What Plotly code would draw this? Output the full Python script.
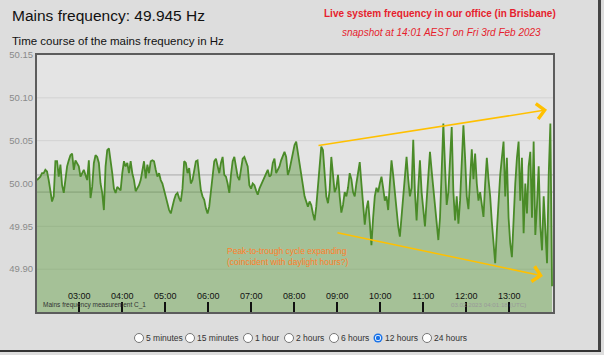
import pandas as pd
import plotly.graph_objects as go

# ---------------- data ----------------
START = "2023-02-03 02:01:00"
END = "2023-02-03 14:01:00"
SAMPLE_SECONDS = 140

FREQ_HZ = [
    50.004, 50.006, 50.008, 50.012, 50.012, 50.016, 50.014, 50.004, 49.991, 49.979,
    49.985, 50.026, 50.026, 50.008, 50.022, 49.998, 49.989, 50.004, 50.020, 50.027,
    50.033, 50.035, 50.016, 50.027, 50.024, 50.020, 50.008, 50.012, 50.016, 50.010,
    50.004, 50.027, 49.983, 49.996, 50.024, 50.033, 50.031, 50.024, 50.000, 49.989,
    49.969, 50.020, 50.039, 50.041, 50.029, 50.012, 49.994, 49.989, 49.996, 49.994,
    49.992, 50.012, 50.026, 50.020, 50.024, 50.012, 50.026, 50.012, 50.004, 49.991,
    49.994, 49.998, 50.004, 50.016, 50.026, 50.006, 50.022, 50.012, 50.026, 50.027,
    50.026, 50.016, 50.008, 50.012, 50.004, 50.000, 49.992, 49.987, 49.977, 49.969,
    49.965, 49.975, 49.981, 49.987, 49.989, 49.983, 49.979, 49.994, 50.026, 50.024,
    50.012, 50.018, 50.000, 50.004, 50.016, 50.026, 50.027, 50.008, 49.992, 49.985,
    49.981, 49.971, 49.965, 49.973, 49.989, 50.004, 50.026, 50.029, 50.020, 50.012,
    50.024, 50.031, 50.010, 50.008, 50.000, 49.989, 50.010, 50.026, 50.031, 50.020,
    50.008, 50.004, 50.016, 50.029, 50.031, 50.024, 50.020, 49.998, 49.994, 50.000,
    49.998, 49.992, 49.987, 49.994, 49.998, 50.002, 50.008, 50.012, 50.016, 50.008,
    50.010, 50.024, 50.029, 50.012, 50.016, 50.020, 50.027, 50.033, 50.037, 50.031,
    50.010, 50.016, 50.027, 50.039, 50.045, 50.049, 50.035, 50.020, 50.012, 49.998,
    49.985, 49.979, 49.973, 49.979, 49.975, 49.965, 49.957, 49.973, 50.000, 50.027,
    50.043, 50.039, 50.008, 49.985, 49.977, 49.992,
    50.031, 50.010, 49.990, 49.995, 50.010, 49.985, 49.966, 49.975, 49.990, 49.985,
    49.995, 50.012, 50.005, 49.990, 49.985, 50.000, 50.015, 50.025, 50.000, 49.975,
    49.952, 49.970, 49.980, 49.955, 49.928, 49.960, 49.985, 49.995, 49.990, 50.000,
    50.008, 49.995, 49.980, 49.985, 49.969, 50.000, 50.027, 50.010, 49.990, 49.965,
    49.950, 49.938, 49.960, 49.985, 50.010, 50.031, 50.005, 49.985, 49.995, 50.051,
    49.990, 49.957, 49.995, 50.027, 49.990, 49.965, 49.950, 49.980, 50.010, 50.037,
    50.015, 49.995, 49.970, 49.950, 49.934, 49.960, 50.010, 50.070, 50.020, 49.975,
    49.990, 50.030, 50.066, 49.990, 49.957, 49.985, 49.953, 49.980, 50.020, 50.068,
    50.030, 49.985, 49.970, 50.010, 50.040, 50.005, 50.035, 50.000, 49.980, 49.990,
    49.975, 49.961, 50.000, 50.030, 50.005, 49.985, 49.955, 49.930, 49.907, 49.945,
    49.985, 50.010, 50.030, 50.049, 49.985, 50.030, 49.960, 49.930, 49.914, 49.960,
    50.000, 50.030, 50.049, 49.980, 50.030, 49.942, 50.000, 49.965, 50.020, 50.037,
    49.960, 50.049, 49.940, 49.975, 50.020, 49.950, 49.922, 49.985, 49.940, 49.907,
    50.010, 50.070, 49.880,
]

Y_TICKS = [50.15, 50.10, 50.05, 50.00, 49.95, 49.90, 49.85]
Y_TICK_TEXT = ["50.15", "50.10", "50.05", "50.00", "49.95", "49.90", "49.85"]
X_TICK_LABELS = ["03:00", "04:00", "05:00", "06:00", "07:00", "08:00",
                 "09:00", "10:00", "11:00", "12:00", "13:00"]
GRID_LEVELS = [50.10, 50.05, 49.95, 49.90]
BAND_LEVELS = [50.01, 49.99]
RADIO_LABELS = ["5 minutes", "15 minutes", "1 hour", "2 hours", "6 hours", "12 hours", "24 hours"]
RADIO_SELECTED = "12 hours"

TITLE = "Mains frequency: 49.945 Hz"
SUBTITLE = "Time course of the mains frequency in Hz"
RED_1 = "Live system frequency in our office (in Brisbane)"
RED_2 = "snapshot at 14:01 AEST on Fri 3rd Feb 2023"
NOTE = "Peak-to-trough cycle expanding<br>(coincident with daylight hours?)"
SERIES_NAME = "Mains frequency measurement C_1"
STAMP = "03.02.2023 04:01:18 (UTC)"

# ---------------- layout geometry ----------------
W, H = 604, 355
L, R, T, B = 37, 51, 55, 43
PW, PH = W - L - R, H - T - B


def px(x):
    return (x - L) / PW


def py(y):
    return (H - B - y) / PH


times = pd.date_range(START, periods=len(FREQ_HZ), freq=f"{SAMPLE_SECONDS}s")
x_tickvals = [f"2023-02-03 {t}:00" for t in X_TICK_LABELS]

FONT = "Arial, 'Liberation Sans', sans-serif"

fig = go.Figure()
fig.add_trace(go.Scatter(
    x=times, y=FREQ_HZ, mode="lines", name=SERIES_NAME,
    line=dict(color="#4a8b28", width=1.8),
    fill="tozeroy", fillcolor="rgba(78,145,45,0.42)",
    hoverinfo="skip",
))

shapes = []
for lv in GRID_LEVELS:
    shapes.append(dict(type="line", xref="paper", yref="y", x0=0, x1=1, y0=lv, y1=lv,
                       line=dict(color="#d2d2d2", width=1), layer="below"))
for lv in BAND_LEVELS:
    shapes.append(dict(type="line", xref="paper", yref="y", x0=0, x1=1, y0=lv, y1=lv,
                       line=dict(color="#a9a9a9", width=1), layer="below"))

annotations = [
    dict(text=TITLE, x=px(10), y=py(15), xref="paper", yref="paper", showarrow=False,
         xanchor="left", yanchor="middle", font=dict(family=FONT, size=15.5, color="#111")),
    dict(text=SUBTITLE, x=px(10), y=py(41), xref="paper", yref="paper", showarrow=False,
         xanchor="left", yanchor="middle", font=dict(family=FONT, size=11.5, color="#111")),
    dict(text=f"<b>{RED_1}</b>", x=px(440), y=py(14), xref="paper", yref="paper", showarrow=False,
         xanchor="center", yanchor="middle", font=dict(family=FONT, size=10, color="#e61e2d")),
    dict(text=f"<i>{RED_2}</i>", x=px(340), y=py(32), xref="paper", yref="paper", showarrow=False,
         xanchor="left", yanchor="middle", font=dict(family=FONT, size=10, color="#e61e2d")),
    dict(text=NOTE, x=px(225), y=py(256), xref="paper", yref="paper", showarrow=False,
         xanchor="left", yanchor="middle", align="left",
         font=dict(family=FONT, size=8.5, color="#ff7f2a")),
    dict(text=SERIES_NAME, x=px(41), y=py(305), xref="paper", yref="paper", showarrow=False,
         xanchor="left", yanchor="middle", font=dict(family=FONT, size=6.5, color="#333")),
    dict(text=STAMP, x=px(449), y=py(304), xref="paper", yref="paper", showarrow=False,
         xanchor="left", yanchor="middle", font=dict(family=FONT, size=6.2, color="#999")),
    # trend arrows
    dict(x="2023-02-03 13:52:40", y=50.086, ax="2023-02-03 08:31:40", ay=50.044,
         xref="x", yref="y", axref="x", ayref="y", text="", showarrow=True,
         arrowhead=4, arrowsize=2, arrowwidth=1.5, arrowcolor="#ffc000"),
    dict(x="2023-02-03 13:47:00", y=49.892, ax="2023-02-03 08:58:10", ay=49.943,
         xref="x", yref="y", axref="x", ayref="y", text="", showarrow=True,
         arrowhead=4, arrowsize=2, arrowwidth=1.5, arrowcolor="#ffc000"),
]

# radio buttons row
radio_x = [139, 190, 248, 289, 334, 378, 427]
ry = 338
for cx, lab in zip(radio_x, RADIO_LABELS):
    sel = lab == RADIO_SELECTED
    r = 4.5
    if sel:
        shapes.append(dict(type="circle", xref="paper", yref="paper",
                           x0=px(cx - r), x1=px(cx + r), y0=py(ry + r), y1=py(ry - r),
                           fillcolor="#1a73e8", line=dict(width=0)))
        shapes.append(dict(type="circle", xref="paper", yref="paper",
                           x0=px(cx - 3), x1=px(cx + 3), y0=py(ry + 3), y1=py(ry - 3),
                           fillcolor="white", line=dict(width=0)))
        shapes.append(dict(type="circle", xref="paper", yref="paper",
                           x0=px(cx - 2.2), x1=px(cx + 2.2), y0=py(ry + 2.2), y1=py(ry - 2.2),
                           fillcolor="#1a73e8", line=dict(width=0)))
    else:
        shapes.append(dict(type="circle", xref="paper", yref="paper",
                           x0=px(cx - r), x1=px(cx + r), y0=py(ry + r), y1=py(ry - r),
                           fillcolor="white", line=dict(color="#767676", width=1)))
    annotations.append(dict(text=lab, x=px(cx + 5), y=py(ry), xref="paper", yref="paper",
                            showarrow=False, xanchor="left", yanchor="middle",
                            font=dict(family=FONT, size=8.5, color="#333")))

fig.update_layout(
    width=W, height=H,
    margin=dict(l=L, r=R, t=T, b=B, pad=0, autoexpand=False),
    paper_bgcolor="#dddddd", plot_bgcolor="#e4e4e4",
    showlegend=False,
    font=dict(family=FONT),
    shapes=shapes, annotations=annotations,
    xaxis=dict(
        type="date", range=[START, END], automargin=False,
        tickvals=x_tickvals, ticktext=X_TICK_LABELS,
        ticks="inside", ticklen=10, tickwidth=1.5, tickcolor="#111",
        ticklabelposition="inside",
        tickfont=dict(family=FONT, size=9, color="#111"),
        showgrid=False, zeroline=False,
        showline=True, mirror=True, linecolor="#5c5c5c", linewidth=2,
    ),
    yaxis=dict(
        range=[49.85, 50.15], tickvals=Y_TICKS, ticktext=Y_TICK_TEXT, automargin=False,
        tickfont=dict(family=FONT, size=9.5, color="#8a8a8a"),
        ticks="", showgrid=False, zeroline=False,
        showline=True, mirror=True, linecolor="#5c5c5c", linewidth=2,
    ),
)

# page frame (right and bottom edges of the screenshot) drawn as page decoration
frame_js = (
    "document.body.style.margin='0';"
    "document.body.style.background='#efefef';"
    "document.documentElement.style.overflow='hidden';"
    "function edge(l,t,w,h,c){var d=document.createElement('div');"
    "d.style.cssText='position:fixed;pointer-events:none;z-index:9999;left:'+l+'px;top:'+t+'px;"
    "width:'+w+'px;height:'+h+'px;background:'+c;document.body.appendChild(d);}"
    "edge(598,0,3,352,'#444');edge(0,350,601,2,'#333');"
)

fig.write_html("out.html", config={"displayModeBar": False}, post_script=frame_js)
